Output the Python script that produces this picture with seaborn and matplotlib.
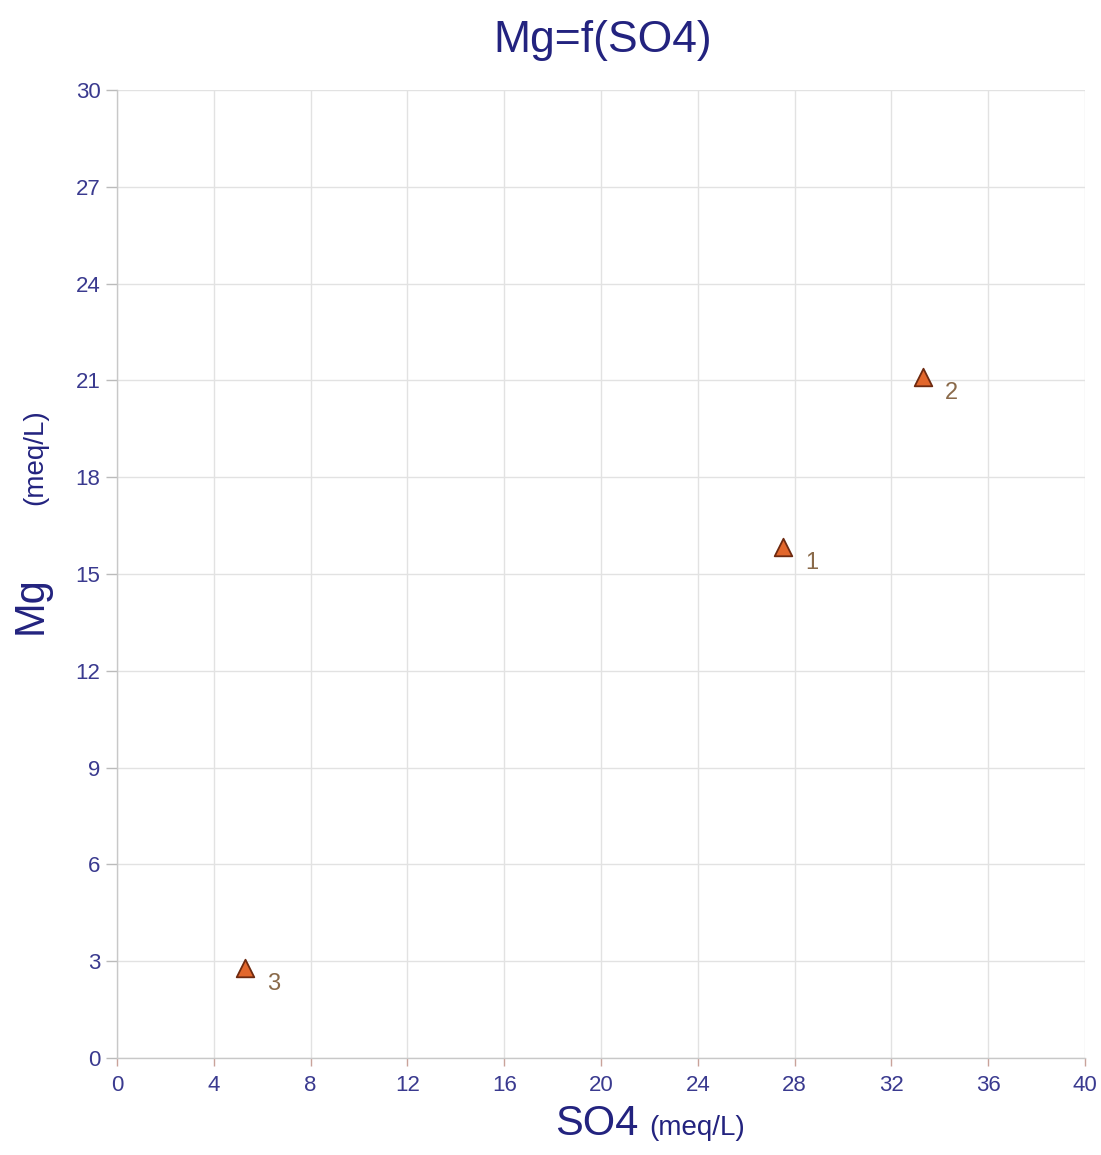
import matplotlib
matplotlib.use('Agg')
import matplotlib.pyplot as plt
import seaborn as sns
import pandas as pd

# data
so4 = [27.5, 33.3, 5.3]
mg = [15.85, 21.1, 2.8]
sample = ['1', '2', '3']

x_ticks = [0, 4, 8, 12, 16, 20, 24, 28, 32, 36, 40]
y_ticks = [0, 3, 6, 9, 12, 15, 18, 21, 24, 27, 30]

df = pd.DataFrame({'SO4': so4, 'Mg': mg, 'sample': sample})

sns.set_style('whitegrid')
plt.rcParams['font.family'] = ['Liberation Sans', 'DejaVu Sans']

navy = '#23237f'
tick_col = '#3a3a8f'

fig = plt.figure(figsize=(11.01, 11.55), dpi=100)
ax = fig.add_axes([0.1063, 0.0840, 0.8792, 0.8381])

sns.scatterplot(data=df, x='SO4', y='Mg', marker='^', s=160,
                color='#e2672c', edgecolor='#6e2a10', linewidth=1.3,
                zorder=5, ax=ax, legend=False)

# point labels
for i in range(len(df)):
    ax.annotate(df['sample'][i], (df['SO4'][i], df['Mg'][i]),
                xytext=(16, -16), textcoords='offset points',
                fontsize=17, color='#8a6a4a')

ax.set_xlim(0, 40)
ax.set_ylim(0, 30)
ax.set_xticks(x_ticks)
ax.set_yticks(y_ticks)
ax.grid(True, color='#e2e2e2', linewidth=1)

for s in ['top', 'right']:
    ax.spines[s].set_visible(False)
for s in ['left', 'bottom']:
    ax.spines[s].set_color('#c8c8c8')
    ax.spines[s].set_linewidth(1)

ax.tick_params(axis='x', colors='#c9a39a', length=6, width=1, pad=6,
               labelcolor=tick_col, labelsize=16)
ax.tick_params(axis='y', colors='#bbbbbb', length=8, width=1, pad=4,
               labelcolor=tick_col, labelsize=16)
ax.tick_params(left=True, bottom=True)

ax.set_xlabel('')
ax.set_ylabel('')

fig.text(0.547, 0.965, 'Mg=f(SO4)', ha='center', va='center',
         fontsize=32, color=navy)
fig.text(0.580, 0.017, 'SO4', ha='right', va='baseline',
         fontsize=30, color=navy)
fig.text(0.590, 0.017, '(meq/L)', ha='left', va='baseline',
         fontsize=20, color=navy)
fig.text(0.028, 0.476, 'Mg', rotation=90, ha='center', va='center',
         fontsize=30, color=navy)
fig.text(0.032, 0.604, '(meq/L)', rotation=90, ha='center', va='center',
         fontsize=20, color=navy)

fig.savefig('out.png', dpi=100)
